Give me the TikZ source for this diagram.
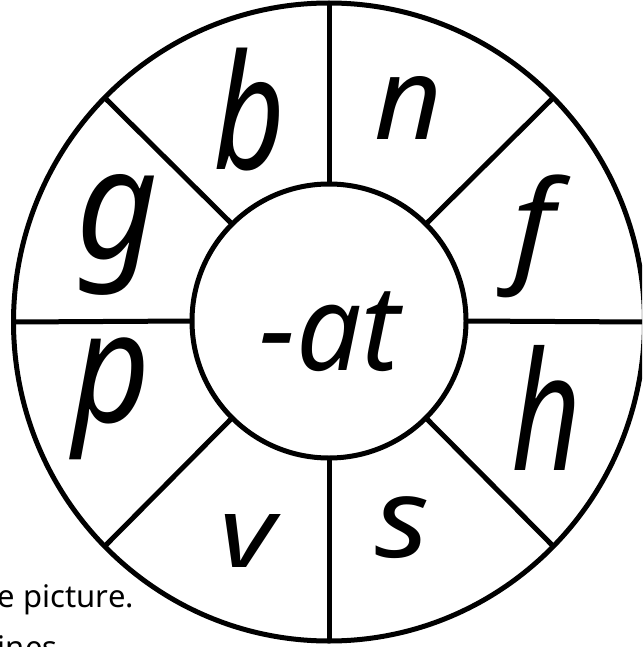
\documentclass[tikz,border=0pt]{standalone}
\usepackage{fontspec}
\usepackage{graphicx}
\setmainfont{Noto Sans}
\usetikzlibrary{shapes.geometric}
\tikzset{
  ring/.style={draw=black, line width=5pt, inner sep=0pt, outer sep=0pt},
  divider/.style={draw=black, line width=5pt},
  letter/.style={inner sep=0pt, outer sep=0pt, anchor=center, font=\itshape},
  note/.style={inner sep=0pt, outer sep=0pt, font=\fontsize{31pt}{35pt}\selectfont}
}
\newcommand{\lt}[3]{\resizebox*{#1pt}{#2pt}{#3}}
\begin{document}
\begin{tikzpicture}[x=1pt,y=-1pt]
\useasboundingbox (0,0) rectangle (642,647);
\clip (0,0) rectangle (642,647);
% worksheet text behind
\node[note, anchor=base west] (t1) at (-2,607) {e picture.};
\node[note, anchor=base west] (t2) at (-2,658) {ines};
% wheel
\node[ring, ellipse, minimum width=631pt, minimum height=638pt] (outer) at (329,322) {};
\node[ring, circle, minimum size=274pt] (inner) at (329,321) {};
\foreach \a in {0,45,...,315}{
  \draw[divider] (inner.\a) -- (outer.\a);
}
\node[letter] (lb) at (250,110) {\lt{72}{123}{b}};
\node[letter] (ln) at (408,108) {\lt{68}{63}{n}};
\node[letter] (lg) at (118,235) {\lt{82}{121}{g}};
\node[letter] (lf) at (533,236) {\lt{42}{123}{f}};
\node[letter] (lp) at (112,399) {\lt{78}{122}{p}};
\node[letter] (lh) at (546,408) {\lt{70}{125}{h}};
\node[letter] (lv) at (248,541) {\lt{56}{53}{v}};
\node[letter] (ls) at (403,528) {\lt{54}{62}{s}};
\node[letter] (lat) at (330,332) {\lt{140}{80}{-at}};
\end{tikzpicture}
\end{document}
